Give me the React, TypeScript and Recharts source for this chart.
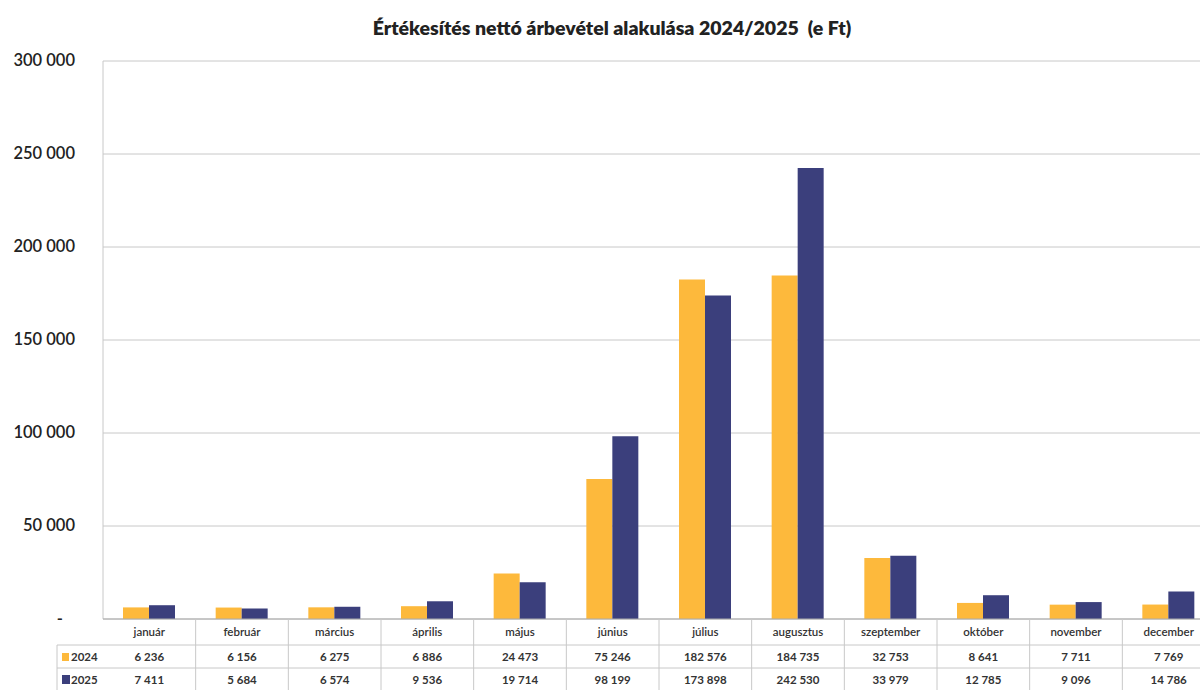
import React from "react";
import { BarChart, Bar, XAxis, YAxis, CartesianGrid } from "recharts";

const months = ["január", "február", "március", "április", "május", "június", "július", "augusztus", "szeptember", "október", "november", "december"];
const values2024 = [6236, 6156, 6275, 6886, 24473, 75246, 182576, 184735, 32753, 8641, 7711, 7769];
const values2025 = [7411, 5684, 6574, 9536, 19714, 98199, 173898, 242530, 33979, 12785, 9096, 14786];
const yTicks = [0, 50000, 100000, 150000, 200000, 250000, 300000];
const seriesNames = ["2024", "2025"];

const data = months.map((m, i) => ({ month: m, v2024: values2024[i], v2025: values2025[i] }));

const CHART_W = 1215;
const CHART_H = 690;
const PLOT_LEFT = 103;
const PLOT_BOTTOM = 619;
const BAND = (CHART_W - PLOT_LEFT) / months.length;
const C24 = "#FDB93C";
const C25 = "#3B3F7C";
const FONT = "Lato, 'Open Sans', sans-serif";
const LINE = "#c8c8c8";

const fmt = (v: number) => (v === 0 ? "-" : v.toString().replace(/\B(?=(\d{3})+(?!\d))/g, " "));

const YTick = (props: any) => {
  const { y, payload } = props;
  const v = payload.value;
  return (
    <text x={v === 0 ? 63 : 75} y={y + 5} textAnchor="end" fontFamily={FONT} fontSize={16.5} fontWeight={600} fill="#222">
      {fmt(v)}
    </text>
  );
};

const XTick = (props: any) => {
  const { x, payload, index } = props;
  const i = index ?? payload.index;
  const left = x - BAND / 2;
  const right = x + BAND / 2;
  return (
    <g>
      {i === 0 && (
        <g>
          <line x1={57} x2={left} y1={645} y2={645} stroke={LINE} />
          <line x1={57} x2={left} y1={668} y2={668} stroke={LINE} />
          <line x1={57} x2={57} y1={645} y2={690} stroke={LINE} />
          <rect x={62} y={653} width={7} height={8} fill={C24} />
          <text x={71} y={661} fontFamily={FONT} fontSize={11.5} fontWeight={700} fill="#333">{seriesNames[0]}</text>
          <rect x={62} y={675} width={8} height={9} fill={C25} />
          <text x={71} y={684} fontFamily={FONT} fontSize={11.5} fontWeight={700} fill="#333">{seriesNames[1]}</text>
        </g>
      )}
      <line x1={left} x2={right} y1={645} y2={645} stroke={LINE} />
      <line x1={left} x2={right} y1={668} y2={668} stroke={LINE} />
      <line x1={right} x2={right} y1={PLOT_BOTTOM} y2={690} stroke={LINE} />
      <text x={x} y={636} textAnchor="middle" fontFamily={FONT} fontSize={11.5} fontWeight={600} fill="#333">{payload.value}</text>
      <text x={x} y={661} textAnchor="middle" fontFamily={FONT} fontSize={11.5} fontWeight={700} fill="#333">{fmt(values2024[i])}</text>
      <text x={x} y={684} textAnchor="middle" fontFamily={FONT} fontSize={11.5} fontWeight={700} fill="#333">{fmt(values2025[i])}</text>
    </g>
  );
};

export default function App() {
  return (
    <div style={{ position: "absolute", left: 0, top: 0, width: 1200, height: 690, overflow: "hidden", background: "#fff" }}>
      <div style={{ position: "absolute", left: 0, top: 16, width: 1224, textAlign: "center", fontFamily: FONT, fontWeight: 800, fontSize: 19.5, color: "#222" }}>
        Értékesítés nettó árbevétel alakulása 2024/2025&nbsp;&nbsp;(e Ft)
      </div>
      <BarChart
        width={CHART_W}
        height={CHART_H}
        data={data}
        margin={{ top: 61, right: 0, bottom: 0, left: 0 }}
        barGap={0}
        style={{ position: "absolute", left: 0, top: 0 }}
      >
        <CartesianGrid horizontal vertical={false} stroke={LINE} />
        <YAxis
          width={PLOT_LEFT}
          domain={[0, 300000]}
          ticks={yTicks}
          interval={0}
          tick={<YTick />}
          tickLine={false}
          axisLine={{ stroke: LINE }}
        />
        <XAxis
          dataKey="month"
          height={CHART_H - PLOT_BOTTOM}
          interval={0}
          tick={<XTick />}
          tickLine={false}
          axisLine={{ stroke: "#aaa" }}
        />
        <Bar dataKey="v2024" name="2024" fill={C24} barSize={26} isAnimationActive={false} />
        <Bar dataKey="v2025" name="2025" fill={C25} barSize={26} isAnimationActive={false} />
      </BarChart>
    </div>
  );
}
